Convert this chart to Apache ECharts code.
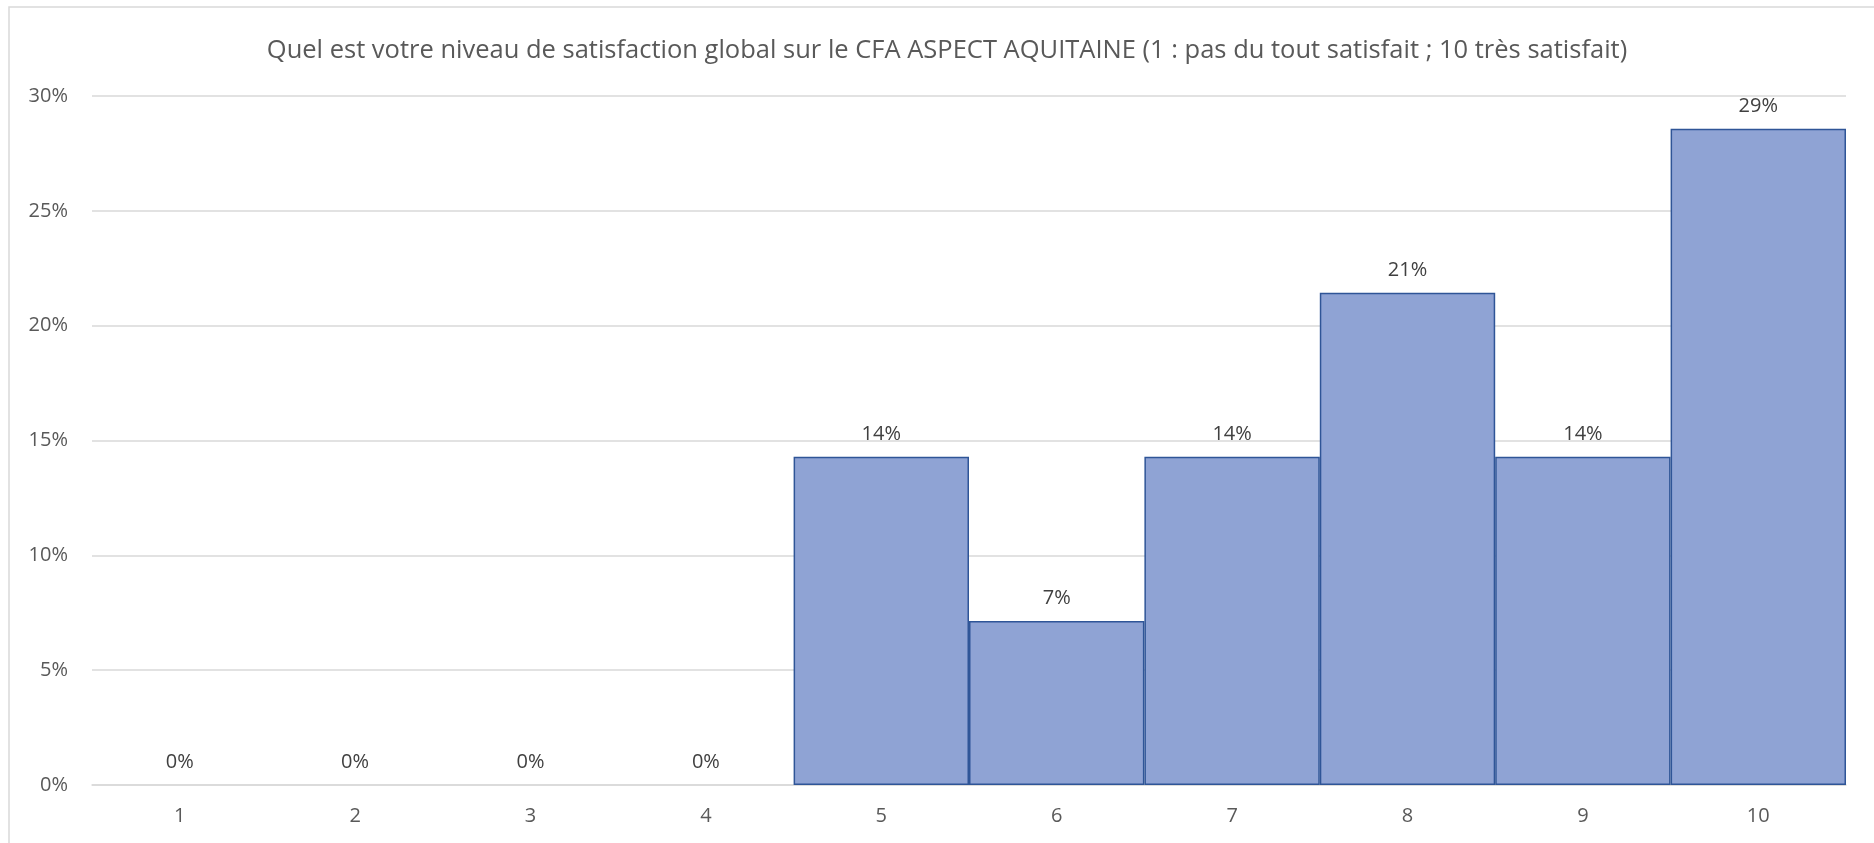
<!DOCTYPE html>
<html>
<head>
<meta charset="utf-8">
<script src="https://cdn.jsdelivr.net/npm/echarts@6/dist/echarts.min.js"></script>
<style>
  html, body { margin: 0; padding: 0; background: #fff; }
  #chart { width: 1874px; height: 843px; }
</style>
</head>
<body>
<div id="chart"></div>
<script>
const chartTitle = 'Quel est votre niveau de satisfaction global sur le CFA ASPECT AQUITAINE (1 : pas du tout satisfait ; 10 très satisfait)'
const categories = ['1', '2', '3', '4', '5', '6', '7', '8', '9', '10']
const shares = [0, 0, 0, 0, 14.29, 7.14, 14.29, 21.43, 14.29, 28.57]
const yTicks = { min: 0, max: 30, interval: 5 }

const font = '"Open Sans", "Noto Sans", sans-serif'
const chart = echarts.init(document.getElementById('chart'))

// empty bars get no outline, otherwise they paint a dark line over the axis
const barData = shares.map(v => (v === 0 ? { value: v, itemStyle: { borderWidth: 0 } } : v))

chart.setOption({
  animation: false,
  textStyle: { fontFamily: font },
  graphic: [
    {
      type: 'rect',
      shape: { x: 9, y: 7, width: 1900, height: 900 },
      style: { fill: 'none', stroke: '#d9d9d9', lineWidth: 1.5 },
      silent: true
    }
  ],
  title: {
    text: chartTitle,
    left: 942,
    top: 33,
    textAlign: 'center',
    textStyle: {
      fontFamily: font,
      fontSize: 25.5,
      fontWeight: 'normal',
      color: '#595959'
    }
  },
  grid: {
    left: 92,
    right: 28,
    top: 96,
    bottom: 58,
    containLabel: false
  },
  xAxis: {
    type: 'category',
    data: categories,
    axisLine: { lineStyle: { color: '#d9d9d9', width: 1.5 } },
    axisTick: { show: false },
    axisLabel: { color: '#595959', fontSize: 20, margin: 21, fontFamily: font }
  },
  yAxis: {
    type: 'value',
    min: yTicks.min,
    max: yTicks.max,
    interval: yTicks.interval,
    axisLine: { show: false },
    axisTick: { show: false },
    splitLine: { lineStyle: { color: '#d9d9d9', width: 1.5 } },
    axisLabel: {
      color: '#595959',
      fontSize: 20,
      margin: 24,
      fontFamily: font,
      formatter: v => v + '%'
    }
  },
  series: [
    {
      type: 'bar',
      data: barData,
      barCategoryGap: 0,
      itemStyle: {
        color: '#8fa3d4',
        borderColor: '#2f5597',
        borderWidth: 1.5
      },
      label: {
        show: true,
        position: 'top',
        distance: 13,
        color: '#404040',
        fontSize: 20,
        fontFamily: font,
        formatter: p => Math.round(p.value) + '%'
      }
    }
  ]
})
</script>
</body>
</html>
